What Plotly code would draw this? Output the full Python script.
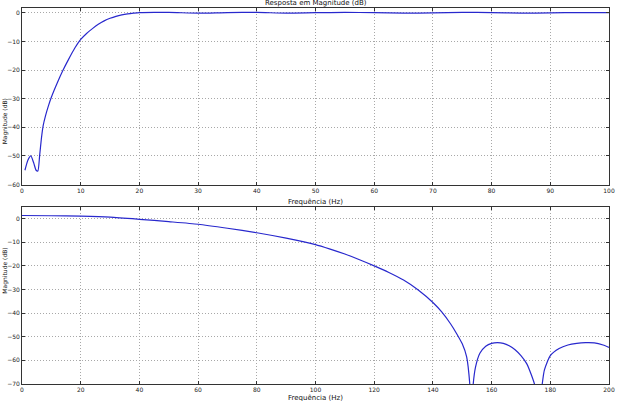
import plotly.graph_objects as go
from plotly.subplots import make_subplots

# Top: high-pass response (0-100 Hz)
top_freq = [0.5, 1.0, 1.5, 2.0, 2.4, 2.7, 3.0, 3.3, 3.6, 4.0, 4.5, 5, 6, 7, 8, 9, 10, 11, 12, 13, 14, 15,
            16, 17, 18, 19, 20, 25, 30, 35, 40, 45, 50, 55, 60, 65, 70, 75, 80, 85, 90, 95, 100]
top_mag = [-55, -51.5, -50, -52.5, -55, -55.3, -50, -44, -39.5, -36, -32.5, -29.5, -24.5, -20, -16, -12.3, -9.3,
           -7.2, -5.5, -4.0, -2.8, -1.9, -1.2, -0.7, -0.35, -0.1, 0.1, 0.15, -0.1, 0.1, 0.15, -0.1, 0.05,
           0.15, 0.1, -0.1, 0.0, 0.15, 0.1, -0.1, 0.0, 0.1, 0.05]

# Bottom: low-pass response (0-200 Hz)
bot_freq = [0, 10, 20, 30, 40, 50, 60, 70, 80, 90, 100, 105, 110, 115, 120, 125, 130, 135, 140, 143, 146,
            148, 150, 151.5, 152.6, 153.1, 153.7, 154.5, 156, 158, 160, 162, 164, 166, 168, 170, 172, 173.5,
            174.7, 176, 177.2, 178, 180, 183, 186, 189, 192, 195, 198, 200]
bot_mag = [1.3, 1.2, 1.0, 0.6, -0.3, -1.3, -2.4, -4.1, -6.0, -8.3, -11, -12.9, -15, -17.4, -20, -22.8, -26,
           -30.2, -35.5, -39.5, -44.5, -48.5, -53, -58.5, -70.5, -85, -70.5, -63, -57, -54, -52.8, -52.5,
           -52.8, -53.8, -55.5, -58, -61.5, -66, -70.5, -85, -70.5, -64, -58, -55, -53.5, -52.8, -52.5,
           -52.6, -53.5, -54.5]

top_xticks = list(range(0, 101, 10))
top_yticks = list(range(-60, 1, 10))
bot_xticks = list(range(0, 201, 20))
bot_yticks = list(range(-70, 1, 10))

title_text = "Resposta em Magnitude (dB)"
xlabel = "Frequência (Hz)"
ylabel = "Magnitude (dB)"

fig = make_subplots(rows=2, cols=1, vertical_spacing=0.0)
line_color = "rgb(40,40,205)"
fig.add_trace(go.Scatter(x=top_freq, y=top_mag, mode="lines",
                         line=dict(color=line_color, width=1.2, shape="spline", smoothing=0.6)),
              row=1, col=1)
fig.add_trace(go.Scatter(x=bot_freq, y=bot_mag, mode="lines",
                         line=dict(color=line_color, width=1.2, shape="spline", smoothing=0.6)),
              row=2, col=1)

axis_common = dict(showline=True, linecolor="#333333", linewidth=1, mirror="ticks",
                   ticks="inside", ticklen=3, tickcolor="#333333",
                   showgrid=True, gridcolor="#a8a8a8", griddash="1px,2px", gridwidth=1,
                   zeroline=False, tickfont=dict(family="DejaVu Sans", size=6, color="#222222"))

fig.update_xaxes(range=[0, 100], tickvals=top_xticks, row=1, col=1, **axis_common)
fig.update_yaxes(range=[-60, 1.7], tickvals=top_yticks, row=1, col=1, **axis_common)
fig.update_xaxes(range=[0, 200], tickvals=bot_xticks, row=2, col=1, **axis_common)
fig.update_yaxes(range=[-70, 4.7], tickvals=bot_yticks, row=2, col=1, **axis_common)

fig.update_layout(
    width=622, height=401,
    margin=dict(l=21, r=7, t=7, b=17),
    paper_bgcolor="white", plot_bgcolor="white",
    showlegend=False,
    xaxis=dict(domain=[0, 1]),
    yaxis=dict(domain=[0.5305, 1.0]),
    xaxis2=dict(domain=[0, 1]),
    yaxis2=dict(domain=[0.0, 0.4695]),
)

ann_font = dict(family="DejaVu Sans", size=7, color="#111111")
fig.add_annotation(text=title_text, xref="paper", yref="paper", x=0.5, y=1.0, yanchor="bottom",
                   yshift=-1, showarrow=False, font=ann_font)
fig.add_annotation(text=xlabel, xref="paper", yref="paper", x=0.5, y=0.5305, yanchor="top",
                   yshift=-11, showarrow=False, font=ann_font)
fig.add_annotation(text=xlabel, xref="paper", yref="paper", x=0.5, y=0.0, yanchor="top",
                   yshift=-8, showarrow=False, font=ann_font)
ylab_font = dict(family="DejaVu Sans", size=6, color="#111111")
fig.add_annotation(text=ylabel, xref="paper", yref="paper", x=0, xanchor="right", xshift=-11,
                   y=0.765, textangle=-90, showarrow=False, font=ylab_font)
fig.add_annotation(text=ylabel, xref="paper", yref="paper", x=0, xanchor="right", xshift=-11,
                   y=0.235, textangle=-90, showarrow=False, font=ylab_font)

fig.write_html("out.html")
